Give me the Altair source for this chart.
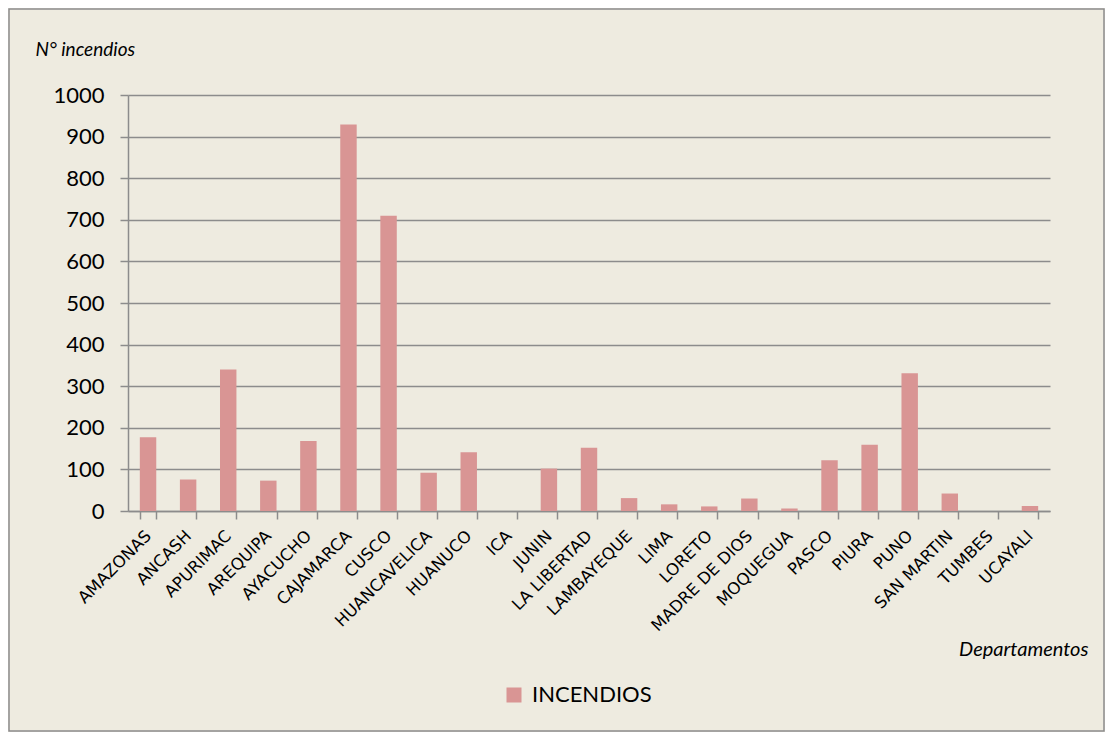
import altair as alt
import pandas as pd

departamentos = ["AMAZONAS", "ANCASH", "APURIMAC", "AREQUIPA", "AYACUCHO", "CAJAMARCA",
                 "CUSCO", "HUANCAVELICA", "HUANUCO", "ICA", "JUNIN", "LA LIBERTAD",
                 "LAMBAYEQUE", "LIMA", "LORETO", "MADRE DE DIOS", "MOQUEGUA", "PASCO",
                 "PIURA", "PUNO", "SAN MARTIN", "TUMBES", "UCAYALI"]
incendios = [177, 76, 340, 73, 168, 929, 710, 92, 141, 0, 102, 152,
             31, 16, 11, 30, 6, 122, 159, 331, 42, 0, 12]
serie = "INCENDIOS"
y_ticks = [0, 100, 200, 300, 400, 500, 600, 700, 800, 900, 1000]

df = pd.DataFrame({"Departamento": departamentos, "Incendios": incendios, "Serie": serie})

BG = "#EEEBE0"
GRID = "#8C8C8C"
BAR = "#D99594"

W, H = 922, 416
PAD = {"left": 120, "top": 87, "right": 55, "bottom": 221}

bars = alt.Chart(df).mark_bar().encode(
    x=alt.X("Departamento:N", sort=departamentos,
            scale=alt.Scale(paddingInner=0.59, paddingOuter=0.295),
            axis=alt.Axis(title="Departamentos", labelAngle=-45, labelAlign="right",
                          labelBaseline="middle", labelPadding=14, labelFont="DejaVu Sans",
                          labelFontSize=16.5, labelColor="black", tickBand="extent",
                          ticks=True, tickSize=8, tickColor=GRID, tickWidth=1.5,
                          domainColor=GRID, domainWidth=1.5, grid=False,
                          titleFont="Lato", titleFontStyle="italic", titleFontWeight="normal",
                          titleFontSize=20, titleColor="black", titleAlign="right",
                          titleBaseline="alphabetic", titleX=960, titleY=144,
                          labelOverlap=False)),
    y=alt.Y("Incendios:Q",
            scale=alt.Scale(domain=[0, 1000], nice=False),
            axis=alt.Axis(title="N° incendios", values=y_ticks, format="d",
                          labelFont="Lato",
                          labelFontSize=22, labelColor="black", labelPadding=16,
                          tickSize=8, tickColor=GRID, tickWidth=1.5,
                          domainColor=GRID, domainWidth=1.5,
                          grid=True, gridColor=GRID, gridWidth=1.5,
                          titleAngle=0, titleFont="Lato", titleFontStyle="italic",
                          titleFontWeight="normal", titleFontSize=19, titleColor="black",
                          titleAlign="left", titleBaseline="alphabetic",
                          titleX=-93, titleY=-40)),
    color=alt.Color("Serie:N", scale=alt.Scale(range=[BAR]),
                    legend=alt.Legend(title=None, orient="none", legendX=375, legendY=589,
                                      symbolType="square", symbolSize=225,
                                      symbolStrokeWidth=0, labelFont="Lato",
                                      labelFontSize=22, labelColor="black",
                                      labelOffset=7)),
)

frame = alt.Chart(pd.DataFrame({"k": [0]})).mark_rect(
    fill="transparent", stroke="#8C8C8C", strokeWidth=1.5, clip=False
).encode(
    x=alt.value(-PAD["left"] + 1),
    x2=alt.value(W + PAD["right"] - 1),
    y=alt.value(-PAD["top"] + 1),
    y2=alt.value(H + PAD["bottom"] - 1),
)

chart = alt.layer(bars, frame).properties(
    width=W, height=H, background=BG,
    autosize=alt.AutoSizeParams(type="none"),
    padding=PAD,
).configure_view(stroke=None)

chart.save("out.html", embed_options={"renderer": "svg", "actions": False})
